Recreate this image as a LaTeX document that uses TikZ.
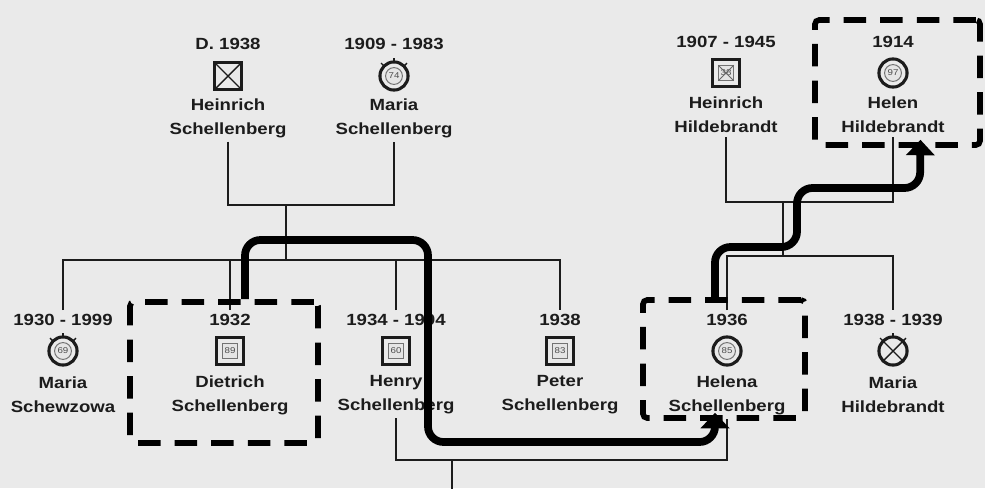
\documentclass[tikz,border=0pt]{standalone}
\usepackage{fontspec}
\setmainfont{Liberation Sans}
\newfontfamily\pedfont{Liberation Sans}[FakeStretch=1.15]
\usetikzlibrary{arrows.meta}
\definecolor{paper}{RGB}{234,234,234}
\definecolor{ink}{RGB}{28,28,28}

\begin{document}
\begin{tikzpicture}[x=0.025cm, y=-0.025cm, >={Triangle[length=11pt,width=20pt]},
  yr/.style={font=\pedfont\bfseries\fontsize{11.5}{13}\selectfont, text=ink, inner sep=0pt, outer sep=3pt},
  nm/.style={font=\pedfont\bfseries\fontsize{11.5}{17}\selectfont, text=ink, align=center, inner sep=0pt, outer sep=3pt},
  man/.style={draw=ink, line width=2.2pt, minimum size=19pt, inner sep=0pt, outer sep=0pt},
  woman/.style={draw=ink, circle, line width=2.2pt, minimum size=20pt, inner sep=0pt, outer sep=0pt},
  age/.style={draw=black!55, line width=0.7pt, fill=black!10, minimum size=11pt, inner sep=0pt, outer sep=0pt, font=\pedfont\fontsize{6}{6}\selectfont, text=black!70},
  agec/.style={age, circle, minimum size=12pt},
  kin/.style={draw=ink, line width=1.4pt},
  hilite/.style={draw=black, line width=4pt, dash pattern=on 16pt off 10pt, rounded corners=3pt},
  trail/.style={draw=black, line width=5.5pt, rounded corners=11pt, ->}]
	% Nen giay
	\fill[paper] (0,0) rectangle (985,488);
	\useasboundingbox (0,0) rectangle (985,488);
	
	% Hang tren: Schellenberg
	\node[yr] (hsY) at (228,44) {D. 1938};
	\node[man] (hsS) at (228,76) {};
	\draw[kin, line width=1pt] (hsS.south west) -- (hsS.north east) (hsS.north west) -- (hsS.south east);
	\node[nm] (hsN) at (228,118) {Heinrich\\Schellenberg};
	
	\node[yr] (msY) at (394,44) {1909 - 1983};
	\node[woman] (msS) at (394,76) {};
	\node[agec] (msA) at (msS) {74};
	\foreach \a in {45,90,135} \draw[kin, line width=1pt] (msS.\a) -- ++(\a:3pt);
	\node[nm] (msN) at (394,118) {Maria\\Schellenberg};
	
	% Hang tren: Hildebrandt
	\node[yr] (hhY) at (726,42) {1907 - 1945};
	\node[man] (hhS) at (726,73) {};
	\node[age] (hhA) at (hhS) {38};
	\draw[line width=0.6pt, black!60] (hhA.south west) -- (hhA.north east) (hhA.north west) -- (hhA.south east);
	\node[nm] (hhN) at (726,115) {Heinrich\\Hildebrandt};
	
	\node[yr] (hnY) at (893,42) {1914};
	\node[woman] (hnS) at (893,73) {};
	\node[agec] (hnA) at (hnS) {97};
	\node[nm] (hnN) at (893,115) {Helen\\Hildebrandt};
	
	% Hang duoi
	\node[yr] (mzY) at (63,320) {1930 - 1999};
	\node[woman] (mzS) at (63,351) {};
	\node[agec] (mzA) at (mzS) {69};
	\foreach \a in {45,90,135} \draw[kin, line width=1pt] (mzS.\a) -- ++(\a:3pt);
	\node[nm] (mzN) at (63,395) {Maria\\Schewzowa};
	
	\node[yr] (dsY) at (230,320) {1932};
	\node[man] (dsS) at (230,351) {};
	\node[age] (dsA) at (dsS) {89};
	\node[nm] (dsN) at (230,395) {Dietrich\\Schellenberg};
	
	\node[yr] (hyY) at (396,320) {1934 - 1994};
	\node[man] (hyS) at (396,351) {};
	\node[age] (hyA) at (hyS) {60};
	\node[nm] (hyN) at (396,395) {Henry\\Schellenberg};
	
	\node[yr] (psY) at (560,320) {1938};
	\node[man] (psS) at (560,351) {};
	\node[age] (psA) at (psS) {83};
	\node[nm] (psN) at (560,395) {Peter\\Schellenberg};
	
	\node[yr] (heY) at (727,320) {1936};
	\node[woman] (heS) at (727,351) {};
	\node[agec] (heA) at (heS) {85};
	\node[nm] (heN) at (727,395) {Helena\\Schellenberg};
	
	\node[yr] (mhY) at (893,320) {1938 - 1939};
	\node[woman] (mhS) at (893,351) {};
	\draw[kin, line width=1pt] (mhS.45) -- (mhS.225) (mhS.135) -- (mhS.315);
	\foreach \a in {45,90,135} \draw[kin, line width=1pt] (mhS.\a) -- ++(\a:3pt);
	\node[nm] (mhN) at (893,395) {Maria\\Hildebrandt};
	
	% Duong noi gia dinh
	\coordinate (sP) at (286,205);
	\coordinate (sK) at (286,260);
	\draw[kin] (hsN.south) |- (sP) -| (msN.south);
	\draw[kin] (sP) -- (sK);
	\draw[kin] (mzY.north) |- (sK) -| (psY.north);
	\draw[kin] (dsY.north) -- (dsY.north |- sK);
	\draw[kin] (hyY.north) -- (hyY.north |- sK);
	
	\coordinate (hP) at (783,202);
	\coordinate (hK) at (783,256);
	\draw[kin] (hhN.south) |- (hP) -| (hnN.south);
	\draw[kin] (hP) -- (hK);
	\draw[kin] (heY.north) |- (hK) -| (mhY.north);
	
	\coordinate (bL) at (452,460);
	\coordinate (bE) at (452,492);
	\draw[kin] (hyN.south) |- (bL) -| (heN.south);
	\draw[kin] (bL) -- (bE);
	
	% Khung net dut
	\node[hilite, minimum width=4.7cm, minimum height=3.525cm] (dsBox) at (224,372.5) {};
	\node[hilite, minimum width=4.05cm, minimum height=2.95cm] (heBox) at (724,359) {};
	\node[hilite, minimum width=4.125cm, minimum height=3.125cm] (hnBox) at (897.5,82.5) {};
	
	% Mui ten ve tay
	\draw[trail] ([xshift=0.525cm]dsBox.north) |- (428,240) -- (428,442) -| ([xshift=-0.225cm,yshift=0.2cm]heBox.south);
	\draw[trail] ([xshift=-0.225cm]heBox.north) |- (797,247) |- (920,188) -- ([xshift=0.575cm,yshift=0.2cm]hnBox.south);
\end{tikzpicture}
\end{document}
